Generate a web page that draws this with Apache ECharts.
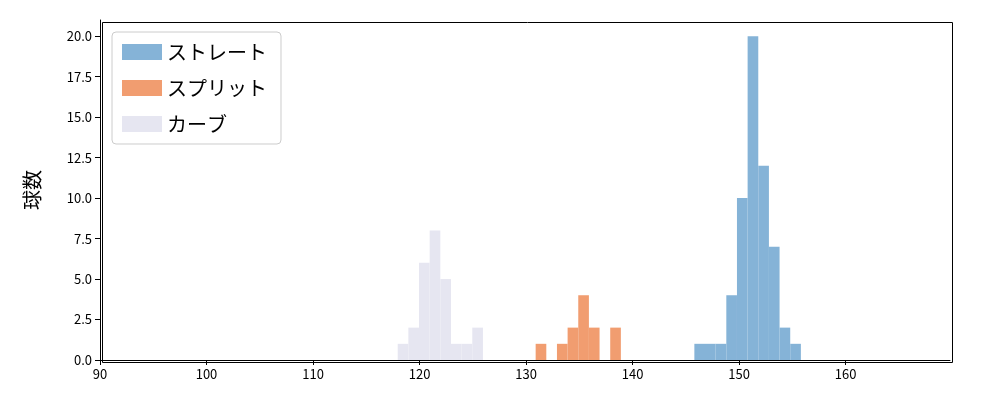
<!DOCTYPE html>
<html style="height: 100%">
<head>
    <meta charset="utf-8">
</head>
<body style="height: 100%; margin: 0">
    <div id="container" style="width: 1000px; height: 400px"></div>
    <script type="text/javascript" src="https://cdn.jsdelivr.net/npm/echarts@6/dist/echarts.min.js"></script>
    <script type="text/javascript">
        // histogram bins: first left edge, counts per 1 km/h bin
        var names = ['ストレート', 'スプリット', 'カーブ'];
        var colors = ['#85b3d7', '#f19d70', '#e6e6f1'];
        var straightStart = 145.8;
        var straightCounts = [1, 1, 1, 4, 10, 20, 12, 7, 2, 1];
        var splitStart = 130.9;
        var splitCounts = [1, 0, 1, 2, 4, 2, 0, 2];
        var curveStart = 117.95;
        var curveCounts = [1, 2, 6, 8, 5, 1, 1, 2];
        var starts = [straightStart, splitStart, curveStart];
        var counts = [straightCounts, splitCounts, curveCounts];

        var myChart = echarts.init(document.getElementById('container'));

        function renderBar(params, api) {
            var x0 = api.value(0), x1 = api.value(1), y = api.value(2);
            var p0 = api.coord([x0, 0]);
            var p1 = api.coord([x1, y]);
            return {
                type: 'rect',
                shape: { x: p0[0], y: p1[1], width: p1[0] - p0[0], height: p0[1] - p1[1] },
                style: { fill: api.visual('color') }
            };
        }

        var series = names.map(function (n, i) {
            var data = counts[i].map(function (c, k) {
                return [starts[i] + k, starts[i] + k + 1, c];
            });
            return {
                name: n,
                type: 'custom',
                renderItem: renderBar,
                itemStyle: { color: colors[i] },
                encode: { x: [0, 1], y: 2 },
                data: data
            };
        });

        var option = {
            backgroundColor: '#fff',
            animation: false,
            textStyle: { fontFamily: 'Noto Sans CJK JP' },
            grid: { left: 100, right: 50, top: 20, bottom: 40 },
            legend: {
                left: 112, top: 32, orient: 'vertical',
                data: names,
                itemWidth: 40, itemHeight: 16, itemGap: 16,
                icon: 'rect',
                padding: [10, 14, 10, 10],
                borderColor: '#ccc', borderWidth: 1, borderRadius: 4,
                textStyle: { fontSize: 20, color: '#000', fontFamily: 'Noto Sans CJK JP' }
            },
            xAxis: {
                type: 'value', min: 90, max: 169.8, interval: 10,
                axisLine: { onZero: false, lineStyle: { color: '#000' } },
                axisTick: { show: true, lineStyle: { color: '#000' } },
                axisLabel: { color: '#000', fontSize: 13, showMaxLabel: false },
                splitLine: { show: false }
            },
            yAxis: {
                type: 'value', min: 0, max: 21, interval: 2.5,
                name: '球数', nameLocation: 'middle', nameGap: 58,
                nameTextStyle: { fontSize: 20, color: '#000' },
                axisLine: { show: true, lineStyle: { color: '#000' } },
                axisTick: { show: true, lineStyle: { color: '#000' } },
                axisLabel: { color: '#000', fontSize: 13, showMaxLabel: false,
                    formatter: function (v) { return v.toFixed(1); } },
                splitLine: { show: false }
            },
            graphic: [{
                type: 'rect', left: 100, top: 20, silent: true,
                shape: { width: 850, height: 340 },
                style: { fill: 'none', stroke: '#000', lineWidth: 1 }
            }],
            series: series
        };
        myChart.setOption(option);
    </script>
</body>
</html>
